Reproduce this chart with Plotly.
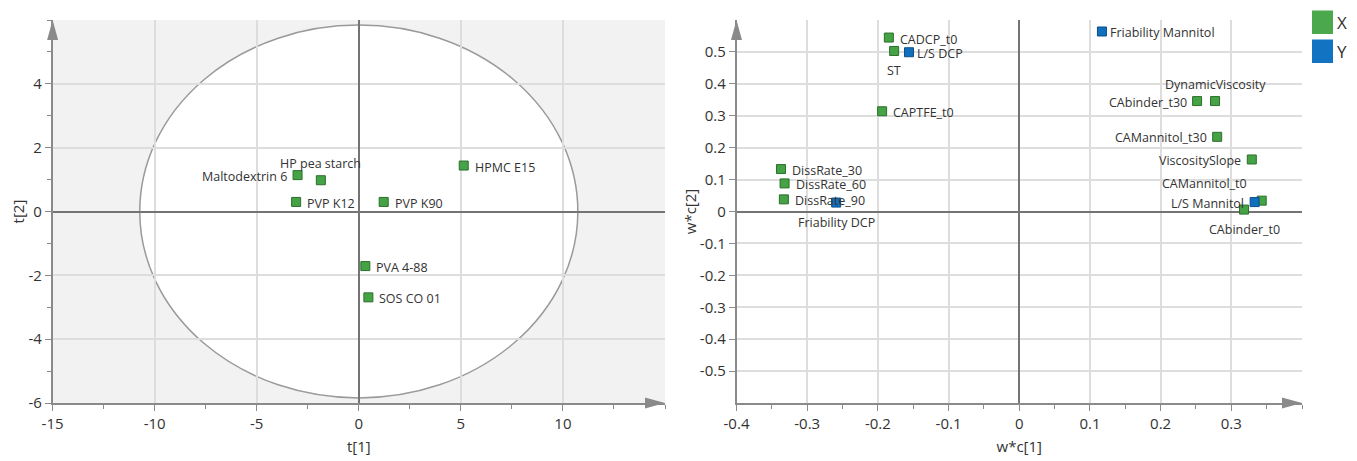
import plotly.graph_objects as go

# ---------------- data ----------------
# Left panel: scores t[1] / t[2]
obs_names = ["Maltodextrin 6", "HP pea starch", "PVP K12", "PVP K90",
             "HPMC E15", "PVA 4-88", "SOS CO 01"]
t1 = [-3.00, -1.86, -3.07, 1.22, 5.14, 0.32, 0.47]
t2 = [1.14, 0.98, 0.30, 0.30, 1.44, -1.71, -2.69]

# Hotelling T2 ellipse half-axes
ellipse_t1 = 10.73
ellipse_t2 = 5.84

# Right panel: loadings w*c[1] / w*c[2]
x_names = ["CADCP_t0", "ST", "CAPTFE_t0", "DissRate_30", "DissRate_60",
           "DissRate_90", "DynamicViscosity", "CAbinder_t30", "CAMannitol_t30",
           "ViscositySlope", "CAMannitol_t0", "CAbinder_t0"]
x_wc1 = [-0.1845, -0.177, -0.194, -0.337, -0.332, -0.333, 0.277, 0.2516,
         0.280, 0.329, 0.343, 0.318]
x_wc2 = [0.545, 0.503, 0.314, 0.133, 0.088, 0.038, 0.346, 0.346, 0.234,
         0.163, 0.034, 0.006]

y_names = ["L/S DCP", "Friability Mannitol", "Friability DCP", "L/S Mannitol"]
y_wc1 = [-0.156, 0.117, -0.259, 0.333]
y_wc2 = [0.499, 0.564, 0.028, 0.0295]

# Tick labels
t1_ticks = [-15, -10, -5, 0, 5, 10]
t1_labels = ["-15", "-10", "-5", "0", "5", "10"]
t2_ticks = [-6, -4, -2, 0, 2, 4]
t2_labels = ["-6", "-4", "-2", "0", "2", "4"]
wc1_ticks = [-0.4, -0.3, -0.2, -0.1, 0, 0.1, 0.2, 0.3]
wc1_labels = ["-0.4", "-0.3", "-0.2", "-0.1", "0", "0.1", "0.2", "0.3"]
wc2_ticks = [-0.5, -0.4, -0.3, -0.2, -0.1, 0, 0.1, 0.2, 0.3, 0.4, 0.5]
wc2_labels = ["-0.5", "-0.4", "-0.3", "-0.2", "-0.1", "0", "0.1", "0.2",
              "0.3", "0.4", "0.5"]

legend_names = ["X", "Y"]

# ---------------- label placement (style) ----------------
# R = right of marker, L = left, T = above, B = below, TL = above-left
obs_place = ["L", "T", "R", "R", "R", "R", "R"]
x_place = ["R", "B", "R", "R", "R", "R", "T", "L", "L", "L", "TL", "B"]
y_place = ["R6", "R6", "B", "L"]

PLACE = {
    "R": dict(xanchor="left", xshift=9, yshift=-1.5),
    "R6": dict(xanchor="left", xshift=6, yshift=-1.5),
    "L": dict(xanchor="right", xshift=-8.5, yshift=-1),
    "T": dict(xanchor="center", xshift=0, yshift=17),
    "B": dict(xanchor="center", xshift=0, yshift=-20),
    "TL": dict(xanchor="right", xshift=-13, yshift=17),
}

# ---------------- style ----------------
PAGE_OFF = 8                      # default page margin of the html body
W, H = 1357 - PAGE_OFF, 461 - PAGE_OFF
GREEN = "#45a245"
GREEN_EDGE = "#2b6f2b"
BLUE = "#1170bd"
BLUE_EDGE = "#0b4e87"
GRID = "#dddddd"
ZERO = "#747474"
AXIS = "#8a8a8a"
TEXT = "#333333"
FONT = "Open Sans, Noto Sans, sans-serif"
LABEL_SIZE = 12.5

L_X0, L_X1 = 52.6, 665.0
R_X0, R_X1 = 736.5, 1302.0
P_TOP, P_BOT = 20.0, 403.0


def fx(p):
    return (p - PAGE_OFF) / W


def fy(p):
    return 1 - (p - PAGE_OFF) / H


fig = go.Figure()

fig.add_trace(go.Scatter(
    x=t1, y=t2, mode="markers", hovertext=obs_names,
    marker=dict(symbol="square", size=9, color=GREEN,
                line=dict(color=GREEN_EDGE, width=1)),
    xaxis="x", yaxis="y", showlegend=False, cliponaxis=False, name="Scores"))

fig.add_trace(go.Scatter(
    x=x_wc1, y=x_wc2, mode="markers", hovertext=x_names,
    marker=dict(symbol="square", size=9, color=GREEN,
                line=dict(color=GREEN_EDGE, width=1)),
    xaxis="x2", yaxis="y2", showlegend=False, cliponaxis=False,
    name=legend_names[0]))

fig.add_trace(go.Scatter(
    x=y_wc1, y=y_wc2, mode="markers", hovertext=y_names,
    marker=dict(symbol="square", size=9, color=BLUE,
                line=dict(color=BLUE_EDGE, width=1)),
    xaxis="x2", yaxis="y2", showlegend=False, cliponaxis=False,
    name=legend_names[1]))

annotations = []
for names, xs, ys, places, xr, yr in [
        (obs_names, t1, t2, obs_place, "x", "y"),
        (x_names, x_wc1, x_wc2, x_place, "x2", "y2"),
        (y_names, y_wc1, y_wc2, y_place, "x2", "y2")]:
    for n, xv, yv, p in zip(names, xs, ys, places):
        annotations.append(dict(
            xref=xr, yref=yr, x=xv, y=yv, text=n, showarrow=False,
            yanchor="middle", font=dict(size=LABEL_SIZE, color=TEXT,
                                        family=FONT),
            **PLACE[p]))

common = dict(
    showgrid=True, gridcolor=GRID, gridwidth=1.5,
    zeroline=True, zerolinecolor=ZERO, zerolinewidth=1.8,
    showline=True, linecolor=AXIS, linewidth=1.5,
    ticks="outside", ticklen=6, tickcolor=AXIS, tickwidth=1,
    tickfont=dict(size=15, color=TEXT, family=FONT),
    tickmode="array", automargin=False,
    title_font=dict(size=15, color=TEXT, family=FONT),
)

fig.update_layout(
    width=W, height=H,
    margin=dict(l=0, r=0, t=0, b=0),
    paper_bgcolor="white", plot_bgcolor="white",
    font=dict(family=FONT, color=TEXT),
    xaxis=dict(common, domain=[fx(L_X0), fx(L_X1)], range=[-15, 15],
               tickvals=t1_ticks, ticktext=t1_labels,
               minor=dict(dtick=2.5, tick0=0, ticks="outside", ticklen=4,
                          tickcolor=AXIS, showgrid=False),
               title=dict(text="t[1]", standoff=10), anchor="y"),
    yaxis=dict(common, domain=[fy(P_BOT), fy(P_TOP)], range=[-6, 6],
               tickvals=t2_ticks, ticktext=t2_labels,
               minor=dict(dtick=1, tick0=0, ticks="outside", ticklen=4,
                          tickcolor=AXIS, showgrid=False),
               title=dict(text="t[2]", standoff=2), anchor="x"),
    xaxis2=dict(common, domain=[fx(R_X0), fx(R_X1)], range=[-0.4, 0.4],
                tickvals=wc1_ticks, ticktext=wc1_labels,
                minor=dict(dtick=0.05, tick0=0, ticks="outside", ticklen=4,
                           tickcolor=AXIS, showgrid=False),
                title=dict(text="w*c[1]", standoff=10), anchor="y2"),
    yaxis2=dict(common, domain=[fy(P_BOT), fy(P_TOP)], range=[-0.6, 0.6],
                tickvals=wc2_ticks, ticktext=wc2_labels,
                title=dict(text="w*c[2]", standoff=0), anchor="x2"),
)

shapes = [
    # grey background of score plot
    dict(type="rect", xref="x domain", yref="y domain", x0=0, x1=1, y0=0, y1=1,
         fillcolor="#f2f2f2", line=dict(width=0), layer="below"),
    # Hotelling T2 ellipse
    dict(type="circle", xref="x", yref="y",
         x0=-ellipse_t1, x1=ellipse_t1, y0=-ellipse_t2, y1=ellipse_t2,
         fillcolor="white", line=dict(color="#9a9a9a", width=1.5),
         layer="below"),
]

AL, AW = 20, 5.5  # arrow length / half width (px)
for x0, x1 in [(L_X0, L_X1), (R_X0, R_X1)]:
    shapes.append(dict(
        type="path", xref="paper", yref="paper",
        path=f"M {fx(x1)},{fy(P_BOT)} L {fx(x1 - AL)},{fy(P_BOT - AW)} "
             f"L {fx(x1 - AL)},{fy(P_BOT + AW)} Z",
        fillcolor=AXIS, line=dict(width=0), layer="above"))
    shapes.append(dict(
        type="path", xref="paper", yref="paper",
        path=f"M {fx(x0)},{fy(P_TOP)} L {fx(x0 - AW)},{fy(P_TOP + AL)} "
             f"L {fx(x0 + AW)},{fy(P_TOP + AL)} Z",
        fillcolor=AXIS, line=dict(width=0), layer="above"))

# legend (manual, larger squares as in reference)
LEG_X0, LEG_X1 = 1312, 1333
for (yt, yb), col, name in [((10.5, 34), "#4ca84c", legend_names[0]),
                            ((39.5, 63), "#1273c2", legend_names[1])]:
    shapes.append(dict(type="rect", xref="paper", yref="paper",
                       x0=fx(LEG_X0), x1=fx(LEG_X1), y0=fy(yb), y1=fy(yt),
                       fillcolor=col, line=dict(width=0)))
    annotations.append(dict(xref="paper", yref="paper", x=fx(LEG_X1 + 2),
                            y=fy((yt + yb) / 2), text=name, showarrow=False,
                            xanchor="left", yanchor="middle",
                            font=dict(size=17, color=TEXT, family=FONT)))

fig.update_layout(shapes=shapes, annotations=annotations)

fig.write_html("out.html")
